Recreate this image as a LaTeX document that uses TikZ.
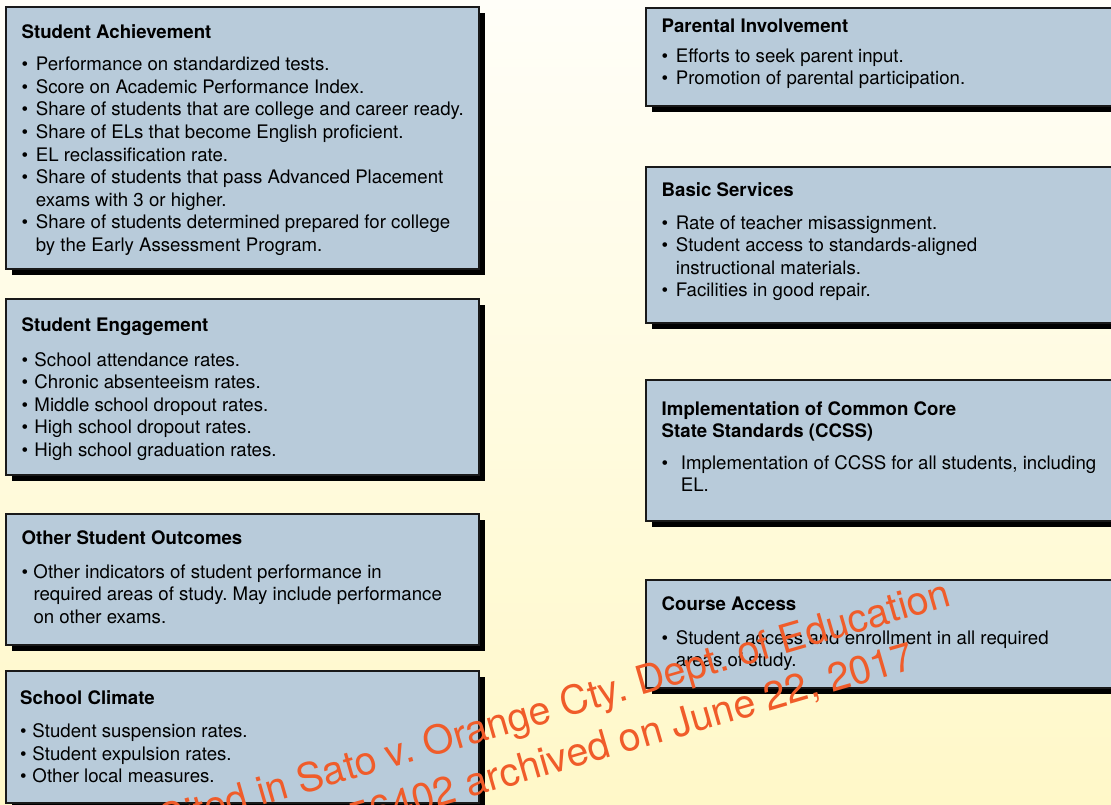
\documentclass[tikz,border=0pt]{standalone}
\usepackage{fontspec}
\setmainfont{TeX Gyre Heros}
\usetikzlibrary{shadows}
\frenchspacing

\definecolor{panelfill}{RGB}{184,203,218}
\definecolor{panelline}{RGB}{25,25,25}
\definecolor{bgtop}{RGB}{255,254,248}
\definecolor{bgbottom}{RGB}{255,248,200}
\definecolor{stamp}{RGB}{240,92,42}

% bullet with a fixed hanging width, and the matching indent for wrapped lines
\newcommand{\bi}[1]{\makebox[#1][l]{\textbullet}}
\newcommand{\ci}[1]{\hspace*{#1}}
\newcommand{\listbox}[1]{\parbox[t]{470pt}{\fontsize{18.65pt}{22.6pt}\selectfont #1}}

\tikzset{
  panel/.style={draw=panelline, line width=1.5pt, fill=panelfill,
    anchor=north west, inner sep=0pt,
    general shadow={fill=black, shadow xshift=6.5pt, shadow yshift=-6.5pt}},
  txt/.style={anchor=base west, inner sep=0pt, text=black,
    font=\fontsize{18.65pt}{22.6pt}\selectfont},
  head/.style={txt, font=\fontsize{18.65pt}{22.6pt}\selectfont\bfseries},
  stampline/.style={anchor=base east, inner sep=0pt, text=stamp, rotate=16.2,
    font=\fontsize{39.6pt}{47pt}\selectfont}
}

\begin{document}
\begin{tikzpicture}[x=1pt,y=-1pt]
\useasboundingbox (0,0) rectangle (1111,804);
\begin{scope}
\clip (0,0) rectangle (1111,804);
\shade[top color=bgtop, bottom color=bgbottom] (0,0) rectangle (1111,804);

% ---- left column ----
\node[panel, minimum width=473pt, minimum height=262pt] (sa) at (5,6) {};
\node[head] (sa-h) at (21.4,38.3) {Student Achievement};
\node[txt] (sa-l) at (21.4,70.7) {\listbox{%
\bi{14.3pt}Performance on standardized tests.\\
\bi{14.3pt}Score on Academic Performance Index.\\
\bi{14.3pt}Share of students that are college and career ready.\\
\bi{14.3pt}Share of ELs that become English proficient.\\
\bi{14.3pt}EL reclassification rate.\\
\bi{14.3pt}Share of students that pass Advanced Placement\\
\ci{14.3pt}exams with 3 or higher.\\
\bi{14.3pt}Share of students determined prepared for college\\
\ci{14.3pt}by the Early Assessment Program.}};

\node[panel, minimum width=473pt, minimum height=176pt] (se) at (5,298) {};
\node[head] (se-h) at (21.4,331) {Student Engagement};
\node[txt] (se-l) at (21.4,366) {\listbox{%
\bi{12.9pt}School attendance rates.\\
\bi{12.9pt}Chronic absenteeism rates.\\
\bi{12.9pt}Middle school dropout rates.\\
\bi{12.9pt}High school dropout rates.\\
\bi{12.9pt}High school graduation rates.}};

\node[panel, minimum width=473pt, minimum height=131pt] (oso) at (5,513) {};
\node[head] (oso-h) at (21.4,544.3) {Other Student Outcomes};
\node[txt] (oso-l) at (21.4,578.3) {\listbox{%
\bi{11.9pt}Other indicators of student performance in\\
\ci{11.9pt}required areas of study. May include performance\\
\ci{11.9pt}on other exams.}};

\node[panel, minimum width=473pt, minimum height=132pt] (sc) at (5,670) {};
\node[head] (sc-h) at (20,704.3) {School Climate};
\node[txt] (sc-l) at (19.8,737.7) {\listbox{%
\bi{12.5pt}Student suspension rates.\\
\bi{12.5pt}Student expulsion rates.\\
\bi{12.5pt}Other local measures.}};

% ---- right column ----
\node[panel, minimum width=480pt, minimum height=98pt] (pi) at (645,7) {};
\node[head] (pi-h) at (661.5,32.3) {Parental Involvement};
\node[txt] (pi-l) at (661.5,62.3) {\listbox{%
\bi{14.2pt}Efforts to seek parent input.\\
\bi{14.2pt}Promotion of parental participation.}};

\node[panel, minimum width=480pt, minimum height=156pt] (bs) at (645,166) {};
\node[head] (bs-h) at (661.5,196.7) {Basic Services};
\node[txt] (bs-l) at (661.5,229) {\listbox{%
\bi{14.2pt}Rate of teacher misassignment.\\
\bi{14.2pt}Student access to standards-aligned\\
\ci{14.2pt}instructional materials.\\
\bi{14.2pt}Facilities in good repair.}};

\node[panel, minimum width=480pt, minimum height=141pt] (ccss) at (645,379) {};
\node[head] (ccss-h) at (661.5,415) {\listbox{\bfseries
Implementation of Common Core\\
State Standards (CCSS)}};
\node[txt] (ccss-l) at (661.5,469.3) {\listbox{%
\bi{19.2pt}Implementation of CCSS for all students, including\\
\ci{19.2pt}EL.}};

\node[panel, minimum width=480pt, minimum height=108pt] (ca) at (645,579) {};
\node[head] (ca-h) at (661.5,610) {Course Access};
\node[txt] (ca-l) at (661.5,644) {\listbox{%
\bi{14.2pt}Student access and enrollment in all required\\
\ci{14.2pt}areas of study.}};

% ---- citation stamp over everything ----
\node[stampline] (wm1) at (953,605) {Cited in Sato v. Orange Cty. Dept. of Education};
\node[stampline] (wm2) at (917,668) {56402 archived on June 22, 2017};
\end{scope}
\end{tikzpicture}
\end{document}
